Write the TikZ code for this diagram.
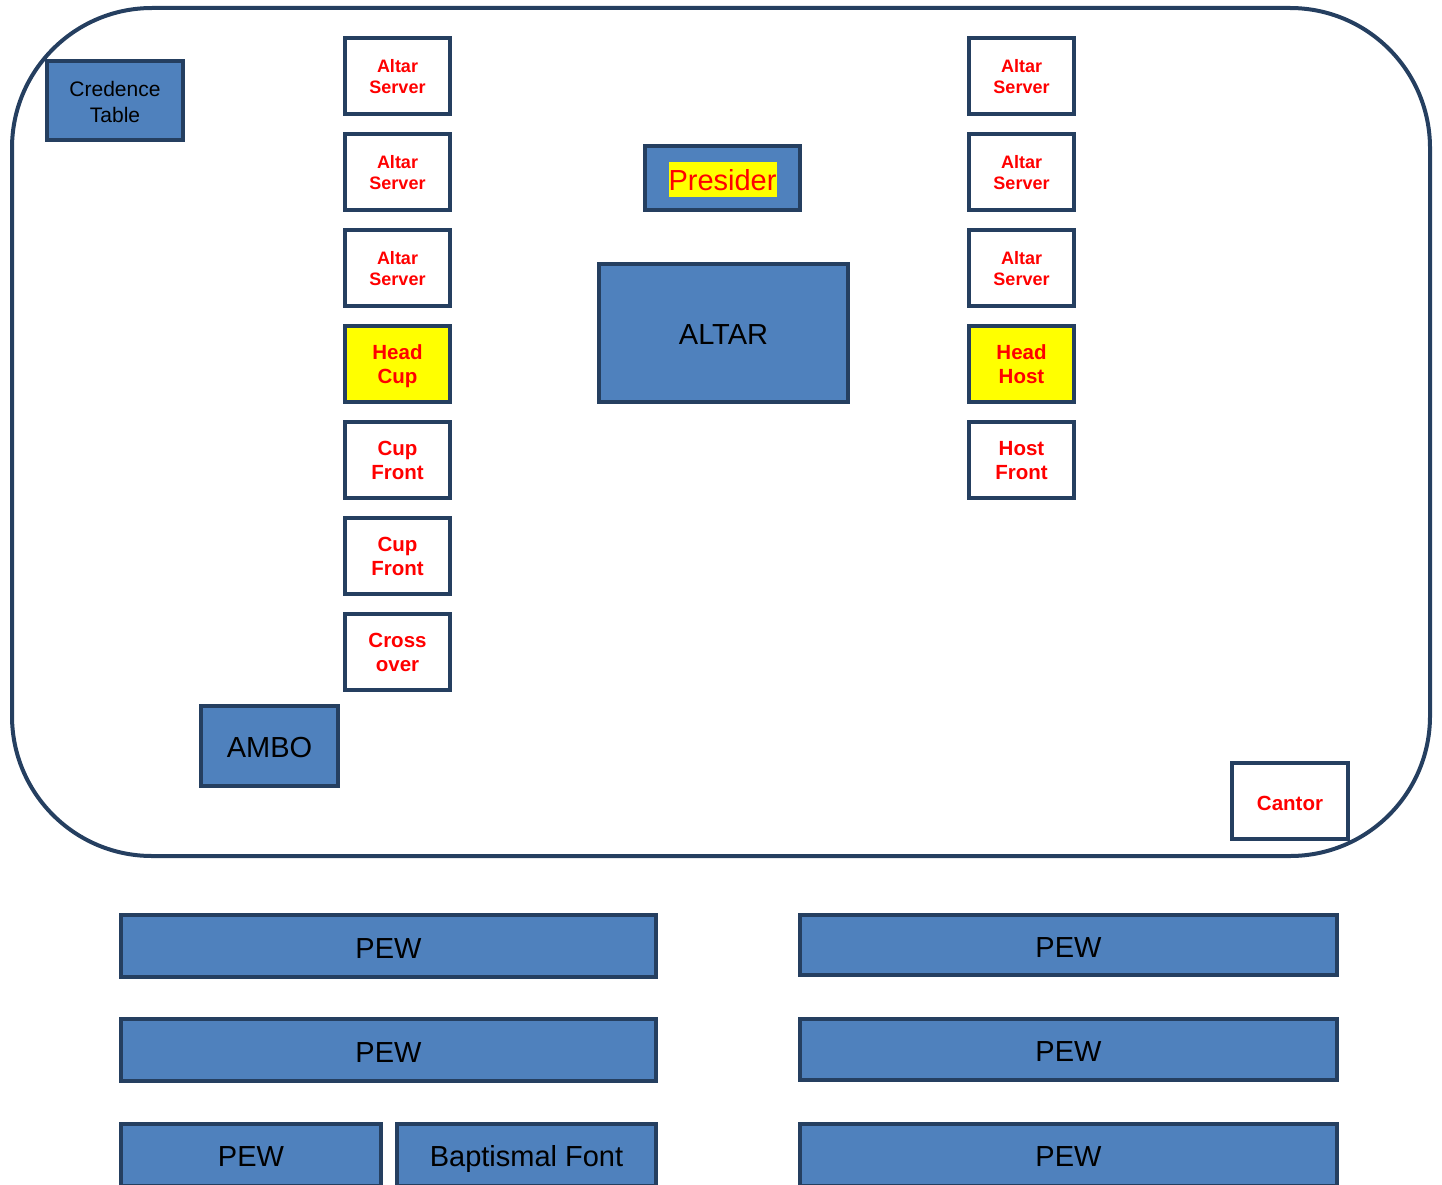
\documentclass[tikz,border=0pt]{standalone}
\usepackage{fontspec}
\setmainfont{Liberation Sans}
\definecolor{navy}{HTML}{253F60}
\definecolor{boxblue}{HTML}{4F81BD}
\definecolor{hiyellow}{HTML}{FFFF00}
\definecolor{txtred}{HTML}{FF0000}
\begin{document}
\begin{tikzpicture}[x=1pt,y=-1pt,
  furn/.style={draw=navy,line width=4pt,fill=boxblue,rectangle,align=center,text=black,inner sep=0pt,font=\fontsize{29}{34}\selectfont,text height=23pt,text depth=0pt},
  rolebox/.style={draw=navy,line width=4pt,fill=white,rectangle,align=center,text=txtred,inner sep=0pt,minimum width=105pt,minimum height=76pt},
  server/.style={rolebox,font=\bfseries\fontsize{18}{21}\selectfont,text height=34.4pt,text depth=0pt},
  duty/.style={rolebox,font=\bfseries\fontsize{20.5}{24}\selectfont,text height=39.6pt,text depth=0pt},
  headduty/.style={duty,fill=hiyellow,text height=39pt},
  pew/.style={furn,minimum height=62pt,text height=24.5pt}
]
\useasboundingbox (0,0) rectangle (1442,1185);
\clip (0,0) rectangle (1442,1185);

% sanctuary outline
\draw[navy,line width=4pt,rounded corners=140pt] (12,8) rectangle (1430,856);

% furniture
\node[furn,minimum width=136pt,minimum height=79pt,font=\fontsize{21}{26}\selectfont,text height=43.6pt,text depth=0pt] (credence) at (115,100.5) {Credence\\Table};
\node[furn,minimum width=155pt,minimum height=64pt] (presbox) at (722.5,178) {};
\node[fill=hiyellow,text=txtred,inner sep=0pt,text height=28.3pt,text depth=6.7pt,font=\fontsize{29}{34}\selectfont,anchor=base] (presider) at (722.5,190) {Presider};
\node[furn,minimum width=249pt,minimum height=138pt] (altar) at (723.5,333) {ALTAR};
\node[furn,minimum width=137pt,minimum height=80pt,text height=23pt] (ambo) at (269.5,746) {AMBO};

% left column
\node[server] (ls1) at (397.5,76) {Altar\\Server};
\node[server] (ls2) at (397.5,172) {Altar\\Server};
\node[server] (ls3) at (397.5,268) {Altar\\Server};
\node[headduty] (headcup) at (397.5,364) {Head\\Cup};
\node[duty] (cup1) at (397.5,460) {Cup\\Front};
\node[duty] (cup2) at (397.5,556) {Cup\\Front};
\node[duty] (cross) at (397.5,652) {Cross\\over};

% right column
\node[server] (rs1) at (1021.5,76) {Altar\\Server};
\node[server] (rs2) at (1021.5,172) {Altar\\Server};
\node[server] (rs3) at (1021.5,268) {Altar\\Server};
\node[headduty] (headhost) at (1021.5,364) {Head\\Host};
\node[duty] (host) at (1021.5,460) {Host\\Front};

% cantor
\node[duty,minimum width=116pt,minimum height=76pt,text height=18pt,text depth=0pt] (cantor) at (1290,801) {Cantor};

% pews
\node[pew,minimum width=535pt] (pl1) at (388.5,946) {PEW};
\node[pew,minimum width=535pt] (pl2) at (388.5,1050) {PEW};
\node[pew,minimum width=260pt,text height=22pt] (pl3) at (251,1155) {PEW};
\node[pew,minimum width=259pt,text height=22pt] (font) at (526.5,1155) {Baptismal Font};
\node[pew,minimum width=537pt,minimum height=60pt] (pr1) at (1068.5,945) {PEW};
\node[pew,minimum width=537pt,minimum height=61pt] (pr2) at (1068.5,1049.5) {PEW};
\node[pew,minimum width=537pt,text height=22pt] (pr3) at (1068.5,1155) {PEW};
\end{tikzpicture}
\end{document}
